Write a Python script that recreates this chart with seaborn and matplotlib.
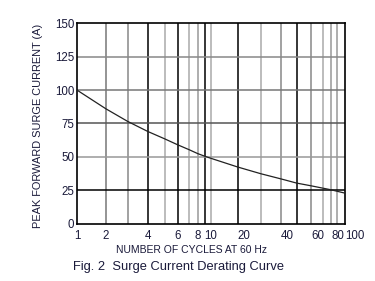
import matplotlib
matplotlib.use("Agg")
import matplotlib.pyplot as plt
import seaborn as sns
import pandas as pd
import numpy as np

cycles = [1, 2, 3, 4, 5, 6, 7, 8, 9, 10, 20, 30, 40, 50, 60, 80, 100]
current = [100, 86, 76.5, 69, 63.5, 59, 55.5, 52.5, 50.5, 49, 42.5, 37.5, 33.7, 30.5, 28.5, 25.5, 23]
xticks = [1, 2, 4, 6, 8, 10, 20, 40, 60, 80, 100]
yticks = [0, 25, 50, 75, 100, 125, 150]
vgrid = [2, 3, 4, 5, 6, 7, 8, 9, 10, 20, 30, 40, 50, 60, 70, 80, 90]
vgrid_colors = ['#777777', '#888888', '#000000', '#aaaaaa', '#000000', '#aaaaaa', '#999999',
                '#000000', '#aaaaaa', '#000000', '#aaaaaa', '#888888', '#000000', '#888888',
                '#aaaaaa', '#999999', '#999999']
hgrid = [25, 50, 75, 100, 125]
hgrid_colors = ['#000000', '#999999', '#555555', '#777777', '#888888']

# the printed chart's logarithmic grid is drawn with its own (non-exact) spacing:
# axis position of each grid value, as a fraction of the axis width
scale_knots = [1, 2, 3, 4, 5, 6, 7, 8, 9, 10, 20, 30, 40, 50, 60, 70, 80, 90, 100]
scale_pos = [0.0, 0.108, 0.19, 0.265, 0.328, 0.377, 0.418, 0.451, 0.478, 0.5,
             0.6, 0.686, 0.76, 0.82, 0.873, 0.918, 0.948, 0.97, 1.0]
_lk = np.log10(scale_knots)


def fwd(x):
    x = np.asarray(x, dtype=float)
    lx = np.log10(np.clip(x, 1e-9, None))
    return np.interp(lx, _lk, scale_pos)


def inv(p):
    p = np.asarray(p, dtype=float)
    return 10 ** np.interp(p, scale_pos, _lk)


sns.set_theme(style="white")
plt.rcParams['font.family'] = ['Liberation Sans', 'DejaVu Sans']

df = pd.DataFrame({"cycles": cycles, "current": current})

fig = plt.figure(figsize=(3.75, 2.81), dpi=100)
ax = fig.add_axes([0.205, 0.203, 0.715, 0.715])
ax.set_xscale('function', functions=(fwd, inv))

for v, c in zip(vgrid, vgrid_colors):
    ax.axvline(v, color=c, lw=1.1, zorder=1)
for h, c in zip(hgrid, hgrid_colors):
    ax.axhline(h, color=c, lw=1.1, zorder=1)

sns.lineplot(data=df, x="cycles", y="current", ax=ax, color='#222222', lw=0.9, zorder=3)
ax.set_xlim(1, 100)
ax.set_ylim(0, 150)
ax.set_xticks(xticks)
ax.set_xticklabels([str(t) for t in xticks])
ax.minorticks_off()
ax.set_yticks(yticks)
ax.set_yticklabels([str(t) for t in yticks])
ax.tick_params(axis='both', length=0, labelsize=8.3, labelcolor='#1a1a3a')
ax.tick_params(axis='y', pad=2)
ax.tick_params(axis='x', pad=4)
for lab, t in zip(ax.get_xticklabels(), xticks):
    if t >= 20:
        lab.set_horizontalalignment('left')
for s in ax.spines.values():
    s.set_color('black')
    s.set_linewidth(1.2)

ax.set_xlabel("NUMBER OF CYCLES AT 60 Hz", fontsize=7.5, color='#1a1a3a')
ax.xaxis.set_label_coords(0.427, -0.105)
ax.set_ylabel("PEAK FORWARD SURGE CURRENT (A)", fontsize=7.9, color='#1a1a3a')
ax.yaxis.set_label_coords(-0.127, 0.49)
fig.text(0.475, 0.051, "Fig. 2  Surge Current Derating Curve", fontsize=9.3, color='#1a1a3a',
         ha='center', va='center')

fig.savefig("out.png", dpi=100)
